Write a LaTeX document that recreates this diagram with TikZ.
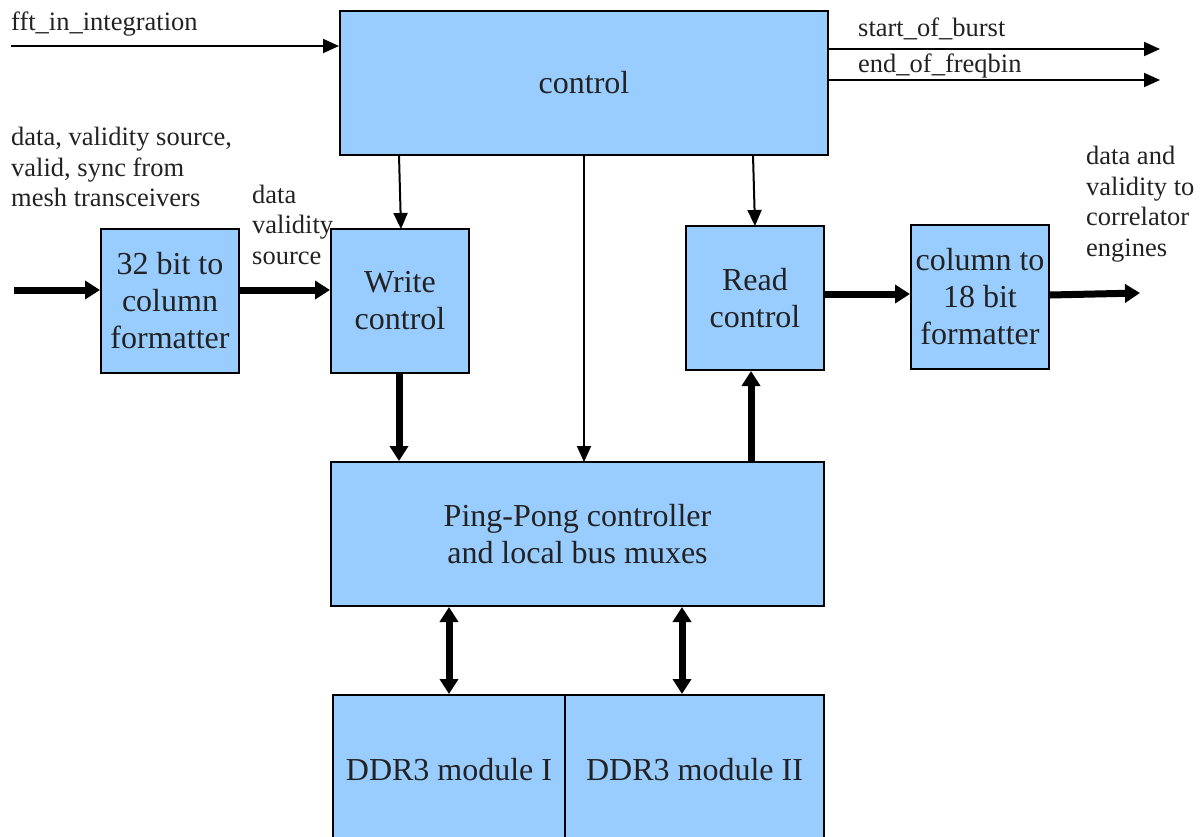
\documentclass[tikz,border=0pt]{standalone}
\usepackage{fontspec}
\setmainfont{Liberation Serif}
\usetikzlibrary{arrows.meta}
\definecolor{boxblue}{HTML}{99CCFF}
\definecolor{ink}{HTML}{222222}
\begin{document}
\begin{tikzpicture}[x=1pt,y=-1pt,
  block/.style={draw=black,line width=2pt,fill=boxblue,rectangle,inner sep=0pt,
    align=center,text=ink,font=\fontsize{32}{37}\selectfont},
  lbl/.style={inner sep=0pt,align=left,text=ink,font=\fontsize{26.5}{30.5}\selectfont},
  thin/.style={line width=2pt,-{Triangle[length=16pt,width=14pt]}},
  thick/.style={line width=7pt,-{Triangle[length=15pt,width=18pt]}},
  dbl/.style={line width=7pt,{Triangle[length=15pt,width=18pt]}-{Triangle[length=15pt,width=18pt]}}]
\useasboundingbox (0,0) rectangle (1204,837);
\clip (0,0) rectangle (1204,837);

% blocks
\node[block,minimum width=488pt,minimum height=144pt] (ctrl) at (584,83) {control};
\node[block,minimum width=138pt,minimum height=144pt] (fmt32) at (170,301) {32 bit to\\column\\formatter};
\node[block,minimum width=138pt,minimum height=144pt] (wr) at (400,301) {Write\\control};
\node[block,minimum width=138pt,minimum height=144pt] (rd) at (755,298) {Read\\control};
\node[block,minimum width=138pt,minimum height=144pt] (fmt18) at (980,297) {column to\\18 bit\\formatter};
\node[block,minimum width=493pt,minimum height=144pt] (pp) at (577.5,534) {Ping-Pong controller\\and local bus muxes};
\node[block,minimum width=232pt,minimum height=150pt] (ddr1) at (449,770) {DDR3 module I};
\node[block,minimum width=259pt,minimum height=150pt] (ddr2) at (694.5,770) {DDR3 module II};

% free ends
\coordinate (fftin) at (11,46);
\coordinate (sob) at (1160,49);
\coordinate (eof) at (1160,80);
\coordinate (meshin) at (14,290);
\coordinate (corrout) at (1140,293);

% labels (multi-line labels are placed by the baseline of their last line)
\node[lbl,anchor=base west] (lfft) at (11,31) {fft\_in\_integration};
\node[lbl,anchor=base west] (lsob) at (858,37) {start\_of\_burst};
\node[lbl,anchor=base west] (leof) at (858,73) {end\_of\_freqbin};
\node[lbl,anchor=base west] (lmesh) at (11,207) {data, validity source,\\valid, sync from\\mesh transceivers};
\node[lbl,anchor=base west] (ldvs) at (252,264) {data\\validity\\source};
\node[lbl,anchor=base west] (lcorr) at (1086,256) {data and\\validity to\\correlator\\engines};

% control signals
\draw[thin] (fftin) -- (fftin -| ctrl.west);
\draw[thin] (sob -| ctrl.east) -- (sob);
\draw[thin] (eof -| ctrl.east) -- (eof);
\draw[thin] (399,155) -- (401,229);
\draw[thin] (584,155) -- (584,462);
\draw[thin] (753,155) -- (755,226);

% data paths
\draw[thick] (meshin) -- (meshin -| fmt32.west);
\draw[thick] (fmt32.east |- 0,290) -- (wr.west |- 0,290);
\draw[thick] (wr.south -| 399,0) -- (pp.north -| 399,0);
\draw[thick] (pp.north -| 751,0) -- (rd.south -| 751,0);
\draw[thick] (rd.east |- 0,294) -- (fmt18.west |- 0,294);
\draw[thick] (fmt18.east |- 0,295) -- (corrout);
\draw[dbl] (pp.south -| 449,0) -- (ddr1.north -| 449,0);
\draw[dbl] (pp.south -| 682,0) -- (ddr2.north -| 682,0);
\end{tikzpicture}
\end{document}
